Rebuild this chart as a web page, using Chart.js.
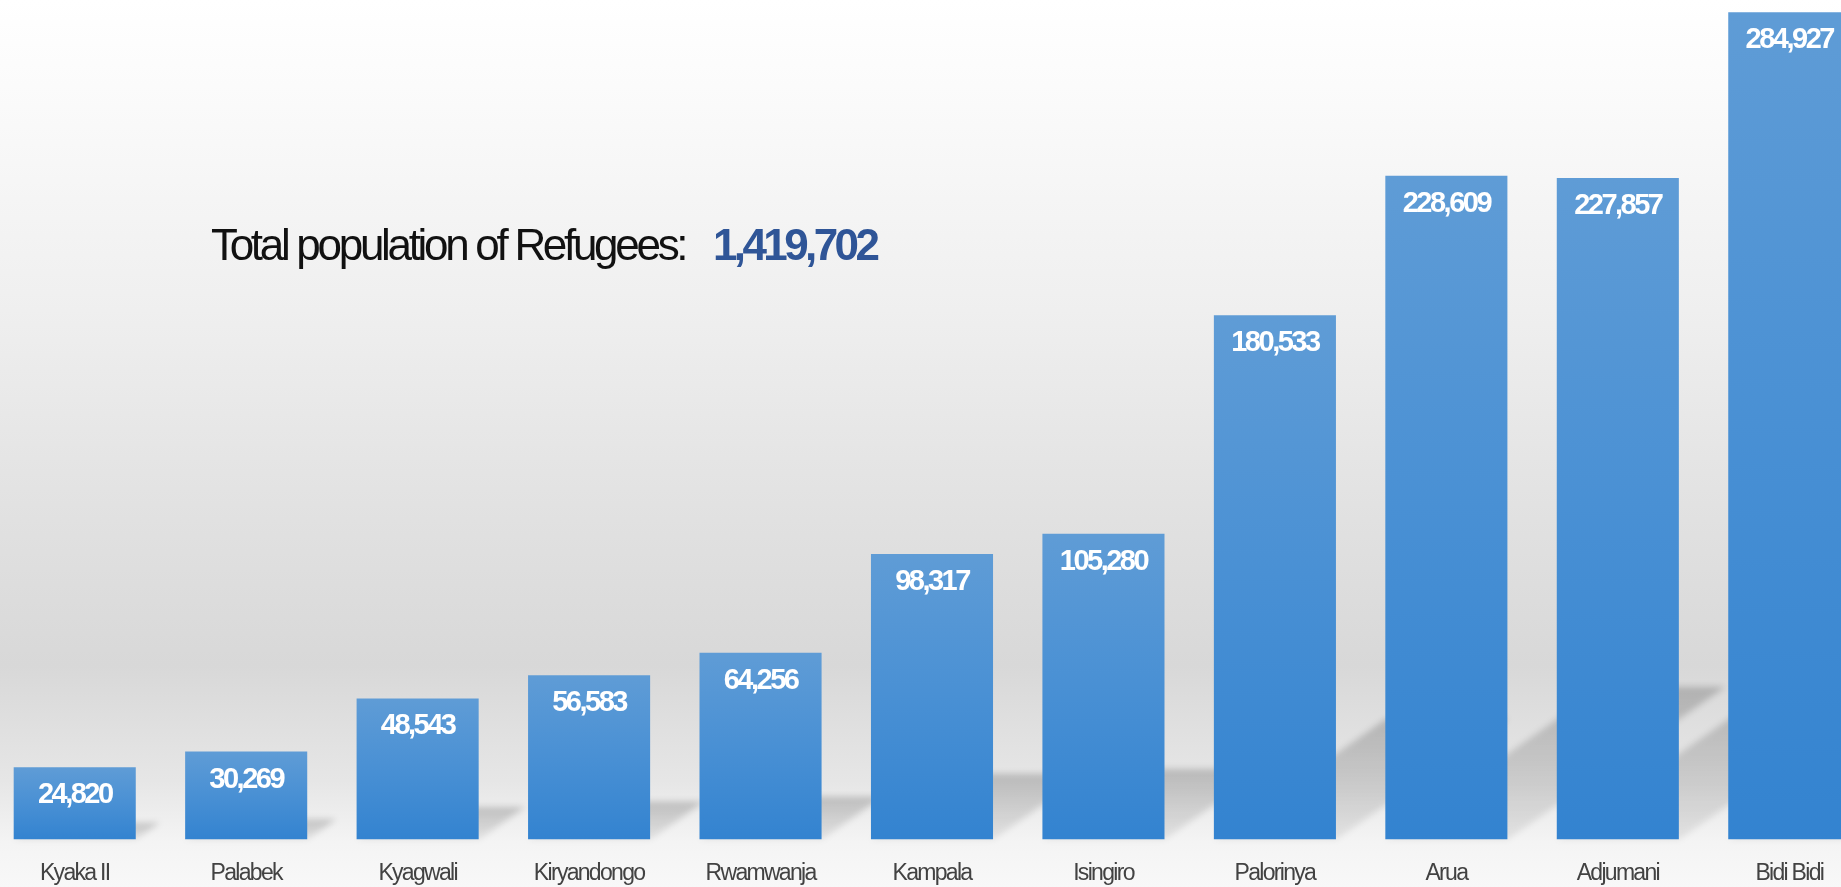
<!DOCTYPE html>
<html>
<head>
<meta charset="utf-8">
<script src="https://cdn.jsdelivr.net/npm/chart.js@4.4.1/dist/chart.umd.min.js"></script>
<style>
  html, body {
    margin: 0;
    padding: 0;
    width: 1841px;
    height: 887px;
    overflow: hidden;
  }
  body {
    position: relative;
    background: linear-gradient(to bottom, #ffffff 0%, #fafafa 12%, #efefef 35%, #e3e3e3 55%, #d8d8d8 75%, #e6e6e6 88%, #f4f4f4 95%, #f8f8f8 100%);
    font-family: 'Liberation Sans', Arial, sans-serif;
  }
  #wrap {
    position: absolute;
    left: -11px;
    top: 0;
    width: 1886px;
    height: 907px;
  }
  .total {
    position: absolute;
    top: 223px;
    font-size: 44px;
    line-height: 44px;
    white-space: nowrap;
  }
  #totalLabel { left: 211px; color: #111; letter-spacing: -3.3px; }
  #totalValue { left: 713px; color: #2f5597; font-weight: bold; letter-spacing: -3.6px; }
</style>
</head>
<body>
<div id="wrap"><canvas id="refugeeChart"></canvas></div>
<div class="total" id="totalLabel">Total population of Refugees:</div>
<div class="total" id="totalValue">1,419,702</div>
<script>
const settlements = ['Kyaka II', 'Palabek', 'Kyagwali', 'Kiryandongo', 'Rwamwanja', 'Kampala',
                     'Isingiro', 'Palorinya', 'Arua', 'Adjumani', 'Bidi Bidi'];
const refugees = [24820, 30269, 48543, 56583, 64256, 98317, 105280, 180533, 228609, 227857, 284927];
const totalRefugees = 1419702;

const fontFamily = "'Liberation Sans', Arial, sans-serif";

// per-bar vertical gradient, lighter at the top
function barFill(context) {
  const chart = context.chart;
  if (!chart.chartArea) return '#4a90d4';
  const yScale = chart.scales.y;
  const top = yScale.getPixelForValue(context.raw);
  const bottom = yScale.getPixelForValue(0);
  const g = chart.ctx.createLinearGradient(0, top, 0, bottom);
  g.addColorStop(0, '#5f9cd6');
  g.addColorStop(0.5, '#4990d4');
  g.addColorStop(1, '#3383d0');
  return g;
}

// tight tracking for the axis text, like the original
const tightText = {
  id: 'tightText',
  beforeDraw(chart) { chart.ctx.letterSpacing = '-1.7px'; },
  afterDraw(chart) { chart.ctx.letterSpacing = '0px'; }
};

// soft floor shadow behind each bar
const barShadows = {
  id: 'barShadows',
  beforeDatasetsDraw(chart) {
    const ctx = chart.ctx;
    const bars = chart.getDatasetMeta(0).data;
    ctx.save();
    ctx.filter = 'blur(3px)';
    bars.forEach(bar => {
      const h = bar.base - bar.y;
      const dy = h * 0.23;
      const dx = dy / 0.7;
      const l = bar.x - bar.width / 2;
      const r = bar.x + bar.width / 2;
      const g = ctx.createLinearGradient(0, bar.base - dy, 0, bar.base);
      g.addColorStop(0, 'rgba(0,0,0,0.19)');
      g.addColorStop(1, 'rgba(0,0,0,0.07)');
      ctx.fillStyle = g;
      ctx.beginPath();
      ctx.moveTo(l, bar.base);
      ctx.lineTo(r, bar.base);
      ctx.lineTo(r + dx, bar.base - dy);
      ctx.lineTo(l + dx, bar.base - dy);
      ctx.closePath();
      ctx.fill();
    });
    ctx.restore();
  }
};

// white value labels inside the top of each bar
const valueLabels = {
  id: 'valueLabels',
  afterDatasetsDraw(chart) {
    const ctx = chart.ctx;
    const bars = chart.getDatasetMeta(0).data;
    ctx.save();
    ctx.font = 'bold 29px ' + fontFamily;
    ctx.fillStyle = '#ffffff';
    ctx.textAlign = 'center';
    ctx.textBaseline = 'middle';
    ctx.letterSpacing = '-2.5px';
    bars.forEach((bar, i) => {
      ctx.fillText(refugees[i].toLocaleString('en-US'), bar.x, bar.y + 28);
    });
    ctx.restore();
  }
};

new Chart(document.getElementById('refugeeChart'), {
  type: 'bar',
  data: {
    labels: settlements,
    datasets: [
      {
        label: 'Refugees',
        data: refugees,
        backgroundColor: barFill,
        borderWidth: 0,
        categoryPercentage: 1,
        barPercentage: 0.712
      }
    ]
  },
  options: {
    responsive: true,
    maintainAspectRatio: false,
    animation: false,
    layout: { padding: { top: 12, left: 0, right: 0, bottom: 0 } },
    plugins: {
      legend: { display: false },
      tooltip: { enabled: false }
    },
    scales: {
      x: {
        grid: { display: false, drawTicks: false },
        border: { display: false },
        ticks: {
          color: '#424242',
          padding: 20,
          font: { family: fontFamily, size: 23 }
        }
      },
      y: {
        display: false,
        min: 0,
        max: 285000
      }
    }
  },
  plugins: [tightText, barShadows, valueLabels]
});
</script>
</body>
</html>
